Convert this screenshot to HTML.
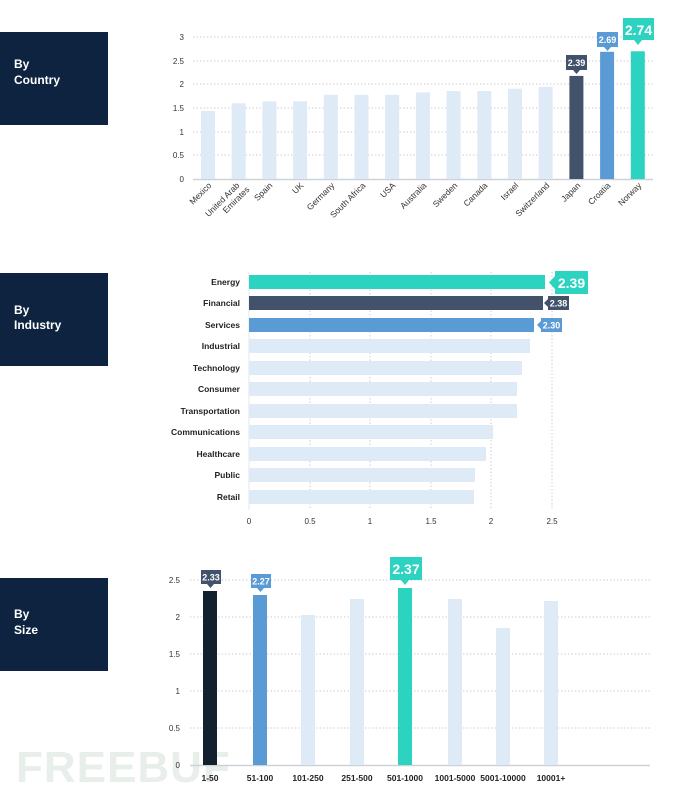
<!DOCTYPE html>
<html><head><meta charset="utf-8"><style>
body{margin:0;background:#fff;}
svg{display:block;font-family:"Liberation Sans",sans-serif;}
.t{font-size:8px;fill:#333;}
.xl{font-size:8.5px;fill:#222;font-weight:bold;}
.g{stroke:#c9ced6;stroke-width:1;stroke-dasharray:1.5 2;}
</style></head><body>
<svg width="690" height="787" viewBox="0 0 690 787">
<rect x="0" y="32" width="108" height="93" fill="#0d2340"/>
<text x="14" y="68" fill="#fff" font-size="12" font-weight="bold">By</text>
<text x="14" y="84" fill="#fff" font-size="12" font-weight="bold">Country</text>
<rect x="0" y="273" width="108" height="93" fill="#0d2340"/>
<text x="14" y="314" fill="#fff" font-size="12" font-weight="bold">By</text>
<text x="14" y="329" fill="#fff" font-size="12" font-weight="bold">Industry</text>
<rect x="0" y="578" width="108" height="93" fill="#0d2340"/>
<text x="14" y="618" fill="#fff" font-size="12" font-weight="bold">By</text>
<text x="14" y="634" fill="#fff" font-size="12" font-weight="bold">Size</text>

<text x="16" y="782" font-size="44" font-weight="bold" fill="#e8efea" letter-spacing="1">FREEBUF</text>

<g>
<line class="g" x1="193" y1="37" x2="653" y2="37"/>
<line class="g" x1="193" y1="61" x2="653" y2="61"/>
<line class="g" x1="193" y1="84" x2="653" y2="84"/>
<line class="g" x1="193" y1="108" x2="653" y2="108"/>
<line class="g" x1="193" y1="132" x2="653" y2="132"/>
<line class="g" x1="193" y1="155" x2="653" y2="155"/>
<line x1="193" y1="179.5" x2="653" y2="179.5" stroke="#ccd2da" stroke-width="1.5"/>
<g class="t" text-anchor="end">
<text x="184" y="40">3</text><text x="184" y="64">2.5</text><text x="184" y="87">2</text>
<text x="184" y="111">1.5</text><text x="184" y="135">1</text><text x="184" y="158">0.5</text><text x="184" y="182">0</text>
</g>
<g fill="#deeaf6">
<rect x="201" y="111" width="14" height="68"/>
<rect x="231.7" y="103.3" width="14" height="75.7"/>
<rect x="262.4" y="101.4" width="14" height="77.6"/>
<rect x="293.1" y="101.4" width="14" height="77.6"/>
<rect x="323.8" y="94.8" width="14" height="84.2"/>
<rect x="354.5" y="94.8" width="14" height="84.2"/>
<rect x="385.2" y="94.8" width="14" height="84.2"/>
<rect x="415.9" y="92.4" width="14" height="86.6"/>
<rect x="446.6" y="91" width="14" height="88"/>
<rect x="477.3" y="91" width="14" height="88"/>
<rect x="508" y="88.7" width="14" height="90.3"/>
<rect x="538.7" y="86.8" width="14" height="92.2"/>
</g>
<rect x="569.4" y="75.9" width="14" height="103.1" fill="#42526b"/>
<rect x="600.1" y="51.8" width="14" height="127.2" fill="#5b9bd5"/>
<rect x="630.8" y="51.3" width="14" height="127.7" fill="#2bd3c0"/>
<rect x="566" y="55" width="21" height="15" fill="#42526b"/><polygon points="573,70 580,70 576.5,74" fill="#42526b"/>
<text x="576.5" y="66" font-size="9" fill="#fff" text-anchor="middle" font-weight="bold">2.39</text>
<rect x="597" y="32" width="21" height="15" fill="#5b9bd5"/><polygon points="604,47 611,47 607.5,51" fill="#5b9bd5"/>
<text x="607.5" y="43" font-size="9" fill="#fff" text-anchor="middle" font-weight="bold">2.69</text>
<rect x="623" y="18" width="31" height="22" fill="#2bd3c0"/><polygon points="634,40 642,40 638,45" fill="#2bd3c0"/>
<text x="638.5" y="35" font-size="14" fill="#fff" text-anchor="middle" font-weight="bold">2.74</text>
<g class="xl" text-anchor="end" style="font-weight:normal;fill:#333">
<text transform="translate(212,186) rotate(-45)">Mexico</text>
<text transform="translate(240,186) rotate(-45)">United Arab</text>
<text transform="translate(250,190) rotate(-45)">Emirates</text>
<text transform="translate(273,186) rotate(-45)">Spain</text>
<text transform="translate(304,186) rotate(-45)">UK</text>
<text transform="translate(335,186) rotate(-45)">Germany</text>
<text transform="translate(366,186) rotate(-45)">South Africa</text>
<text transform="translate(396,186) rotate(-45)">USA</text>
<text transform="translate(427,186) rotate(-45)">Australia</text>
<text transform="translate(458,186) rotate(-45)">Sweden</text>
<text transform="translate(488,186) rotate(-45)">Canada</text>
<text transform="translate(519,186) rotate(-45)">Israel</text>
<text transform="translate(550,186) rotate(-45)">Switzerland</text>
<text transform="translate(581,186) rotate(-45)">Japan</text>
<text transform="translate(611,186) rotate(-45)">Croatia</text>
<text transform="translate(642,186) rotate(-45)">Norway</text>
</g>
</g>

<g>
<line class="g" x1="310" y1="272" x2="310" y2="510"/>
<line class="g" x1="370" y1="272" x2="370" y2="510"/>
<line class="g" x1="431" y1="272" x2="431" y2="510"/>
<line class="g" x1="491" y1="272" x2="491" y2="510"/>
<line class="g" x1="552" y1="272" x2="552" y2="510"/>
<line x1="249" y1="272" x2="249" y2="510" stroke="#e3e7ec"/>
<rect x="249" y="275" width="296" height="14" fill="#2bd3c0"/>
<rect x="249" y="296" width="294" height="14" fill="#42526b"/>
<rect x="249" y="318" width="285" height="14" fill="#5b9bd5"/>
<g fill="#deeaf6">
<rect x="249" y="339" width="281" height="14"/>
<rect x="249" y="361" width="273" height="14"/>
<rect x="249" y="382" width="268" height="14"/>
<rect x="249" y="404" width="268" height="14"/>
<rect x="249" y="425" width="244" height="14"/>
<rect x="249" y="447" width="237" height="14"/>
<rect x="249" y="468" width="226" height="14"/>
<rect x="249" y="490" width="225" height="14"/>
</g>
<polygon points="549,282.5 555,276 555,289" fill="#2bd3c0"/>
<rect x="555" y="271" width="33" height="23" fill="#2bd3c0"/>
<text x="571.5" y="288" font-size="14" fill="#fff" text-anchor="middle" font-weight="bold">2.39</text>
<polygon points="544,303 548,299 548,307" fill="#42526b"/>
<rect x="548" y="296" width="21" height="14" fill="#42526b"/>
<text x="558.5" y="306.5" font-size="9" fill="#fff" text-anchor="middle" font-weight="bold">2.38</text>
<polygon points="537,325 541,321 541,329" fill="#5b9bd5"/>
<rect x="541" y="318" width="21" height="14" fill="#5b9bd5"/>
<text x="551.5" y="328.5" font-size="9" fill="#fff" text-anchor="middle" font-weight="bold">2.30</text>
<g class="xl" text-anchor="end" font-size="8.5">
<text x="240" y="285">Energy</text>
<text x="240" y="306">Financial</text>
<text x="240" y="328">Services</text>
<text x="240" y="349">Industrial</text>
<text x="240" y="371">Technology</text>
<text x="240" y="392">Consumer</text>
<text x="240" y="414">Transportation</text>
<text x="240" y="435">Communications</text>
<text x="240" y="457">Healthcare</text>
<text x="240" y="478">Public</text>
<text x="240" y="500">Retail</text>
</g>
<g class="t" text-anchor="middle">
<text x="249" y="524">0</text><text x="310" y="524">0.5</text><text x="370" y="524">1</text>
<text x="431" y="524">1.5</text><text x="491" y="524">2</text><text x="552" y="524">2.5</text>
</g>
</g>

<g>
<line class="g" x1="190" y1="580" x2="650" y2="580"/>
<line class="g" x1="190" y1="617" x2="650" y2="617"/>
<line class="g" x1="190" y1="654" x2="650" y2="654"/>
<line class="g" x1="190" y1="691" x2="650" y2="691"/>
<line class="g" x1="190" y1="728" x2="650" y2="728"/>
<line x1="190" y1="765.5" x2="650" y2="765.5" stroke="#ccd2da" stroke-width="1.5"/>
<g class="t" text-anchor="end">
<text x="180" y="583">2.5</text><text x="180" y="620">2</text><text x="180" y="657">1.5</text>
<text x="180" y="694">1</text><text x="180" y="731">0.5</text><text x="180" y="768">0</text>
</g>
<rect x="203" y="591" width="14" height="174" fill="#13202e"/>
<rect x="253" y="595" width="14" height="170" fill="#5b9bd5"/>
<rect x="398" y="588" width="14" height="177" fill="#2bd3c0"/>
<g fill="#deeaf6">
<rect x="301" y="615" width="14" height="150"/>
<rect x="350" y="599" width="14" height="166"/>
<rect x="448" y="599" width="14" height="166"/>
<rect x="496" y="628" width="14" height="137"/>
<rect x="544" y="601" width="14" height="164"/>
</g>
<rect x="201" y="570" width="20" height="14" fill="#42526b"/><polygon points="207,584 214,584 210.5,588" fill="#42526b"/>
<text x="211" y="580.5" font-size="9" fill="#fff" text-anchor="middle" font-weight="bold">2.33</text>
<rect x="251" y="574" width="20" height="14" fill="#5b9bd5"/><polygon points="257,588 264,588 260.5,592" fill="#5b9bd5"/>
<text x="261" y="584.5" font-size="9" fill="#fff" text-anchor="middle" font-weight="bold">2.27</text>
<rect x="390" y="557" width="32" height="23" fill="#2bd3c0"/><polygon points="401,580 409,580 405,585" fill="#2bd3c0"/>
<text x="406" y="574" font-size="14" fill="#fff" text-anchor="middle" font-weight="bold">2.37</text>
<g class="xl" text-anchor="middle" font-size="8">
<text x="210" y="781">1-50</text>
<text x="260" y="781">51-100</text>
<text x="308" y="781">101-250</text>
<text x="357" y="781">251-500</text>
<text x="405" y="781">501-1000</text>
<text x="455" y="781">1001-5000</text>
<text x="503" y="781">5001-10000</text>
<text x="551" y="781">10001+</text>
</g>
</g>
</svg>
</body></html>
